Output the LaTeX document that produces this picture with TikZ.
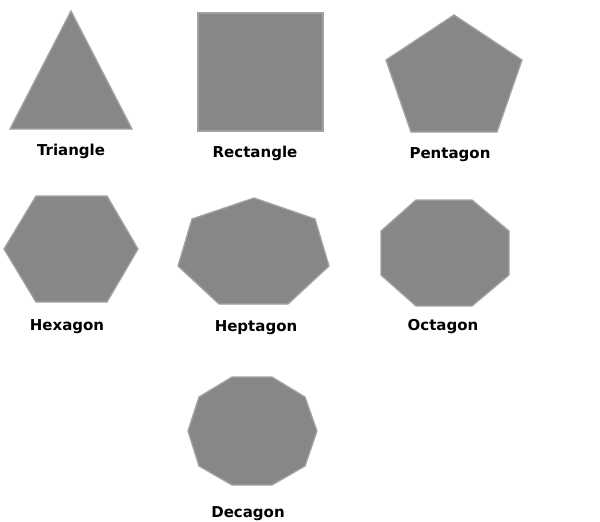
\documentclass[tikz,border=0pt]{standalone}
\usepackage{fontspec}
\setmainfont{DejaVu Sans}
\definecolor{shapefill}{HTML}{878787}
\definecolor{shapeedge}{HTML}{A3A3A3}
\begin{document}
\begin{tikzpicture}[x=1pt,y=-1pt,
  poly/.style={fill=shapefill,draw=shapeedge,line width=1.3pt,line join=miter},
  lbl/.style={font=\bfseries\fontsize{15}{17}\selectfont,text=black,inner sep=0pt}]
\useasboundingbox[fill=white] (0,0) rectangle (600,522);
% Triangle
\draw[poly] (71,11) -- (132,129) -- (10,129) -- cycle;
\node[lbl] (ltri) at (71,151) {Triangle};
% Rectangle
\draw[poly] (198,13) rectangle (323,131);
\node[lbl] (lrect) at (255,153) {Rectangle};
% Pentagon
\draw[poly] (454,15) -- (522,60) -- (497,132) -- (411,132) -- (386,60) -- cycle;
\node[lbl] (lpent) at (450,155) {Pentagon};
% Hexagon
\draw[poly] (36,196) -- (107,196) -- (138,249) -- (107,302) -- (36,302) -- (4,249) -- cycle;
\node[lbl] (lhex) at (67,327) {Hexagon};
% Heptagon
\draw[poly] (254,198) -- (315,219) -- (329,266) -- (288,304) -- (219,304) -- (178,266) -- (192,219) -- cycle;
\node[lbl] (lhept) at (256,328) {Heptagon};
% Octagon
\draw[poly] (416,200) -- (472,200) -- (509,231) -- (509,275) -- (472,306) -- (416,306) -- (381,275) -- (381,231) -- cycle;
\node[lbl] (loct) at (443,327) {Octagon};
% Decagon
\draw[poly] (232,377) -- (272,377) -- (305,397) -- (317,431) -- (305,466) -- (272,485) -- (232,485) -- (199,466) -- (188,431) -- (199,397) -- cycle;
\node[lbl] (ldec) at (248,514) {Decagon};
\end{tikzpicture}
\end{document}
